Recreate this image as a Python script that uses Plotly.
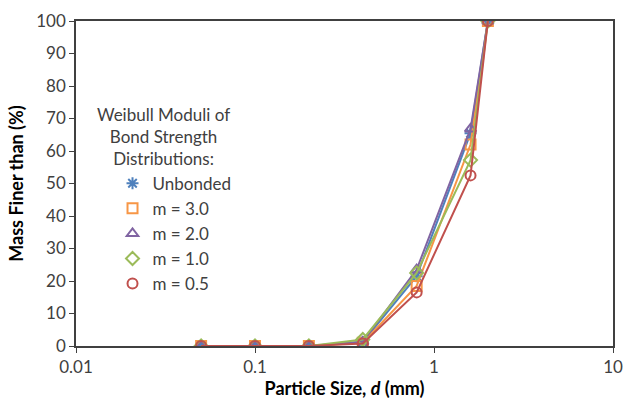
import plotly.graph_objects as go

sizes = [0.05, 0.1, 0.2, 0.4, 0.8, 1.6, 2.0]
unbonded = [0, 0, 0, 1.2, 21.5, 65.5, 100]
m30 = [0, 0, 0, 1.0, 18.5, 62, 100]
m20 = [0, 0, 0, 1.3, 23.5, 66.8, 100]
m10 = [0, 0, 0, 2.0, 22.5, 57.2, 100]
m05 = [0, 0, 0, 0.8, 16.5, 52.5, 100]

names = ["Unbonded", "m = 3.0", "m = 2.0", "m = 1.0", "m = 0.5"]
series = [unbonded, m30, m20, m10, m05]
colors = ["#4F81BD", "#F79646", "#8064A2", "#9BBB59", "#C0504D"]
symbols = ["asterisk-open", "square-open", "triangle-up-open", "diamond-open", "circle-open"]

font = "Lato, 'Liberation Sans', sans-serif"
fig = go.Figure()
for i, (n, ys, c, s) in enumerate(zip(names, series, colors, symbols)):
    fig.add_trace(go.Scatter(
        x=sizes, y=ys, name=n, mode="lines+markers",
        line=dict(color=c, width=2),
        marker=dict(symbol=s, size=10, color=c, line=dict(color=c, width=2)),
        showlegend=False,
    ))
# legend entries (marker only, like the reference legend)
for i, (n, c, s) in enumerate(zip(names, colors, symbols)):
    fig.add_trace(go.Scatter(
        x=[None], y=[None], name=n, mode="markers",
        marker=dict(symbol=s, size=10, color=c, line=dict(color=c, width=2)),
        showlegend=True,
    ))

fig.update_layout(
    width=633, height=406,
    margin=dict(l=76, r=10, t=18, b=59),
    paper_bgcolor="white", plot_bgcolor="white",
    font=dict(family=font, size=17, color="#404040"),
    showlegend=True,
    legend=dict(x=0.068, y=0.555, xanchor="left", yanchor="top",
                bgcolor="rgba(0,0,0,0)", tracegroupgap=0,
                font=dict(family=font, size=17, color="#404040"),
                itemwidth=30),
    annotations=[dict(
        text="Weibull Moduli of<br>Bond Strength<br>Distributions:",
        x=0.163, y=0.752, xref="paper", yref="paper",
        xanchor="center", yanchor="top", showarrow=False, align="center",
        font=dict(family=font, size=17, color="#404040"))],
    xaxis=dict(
        type="log", range=[-2, 1],
        tickvals=[0.01, 0.1, 1, 10], ticktext=["0.01", "0.1", "1", "10"],
        ticks="outside", ticklen=5, tickcolor="#404040",
        showline=True, linecolor="#404040", linewidth=1.5, mirror=True,
        showgrid=False, zeroline=False,
        title=dict(text="<b>Particle Size, <i>d</i> (mm)</b>", standoff=6,
                   font=dict(family=font, size=18, color="#000000")),
    ),
    yaxis=dict(
        range=[0, 100], dtick=10,
        ticks="outside", ticklen=5, tickcolor="#404040",
        showline=True, linecolor="#404040", linewidth=1.5, mirror=True,
        showgrid=False, zeroline=False,
        title=dict(text="<b>Mass Finer than (%)</b>", standoff=8,
                   font=dict(family=font, size=18, color="#000000")),
    ),
)
fig.write_html("out.html")
